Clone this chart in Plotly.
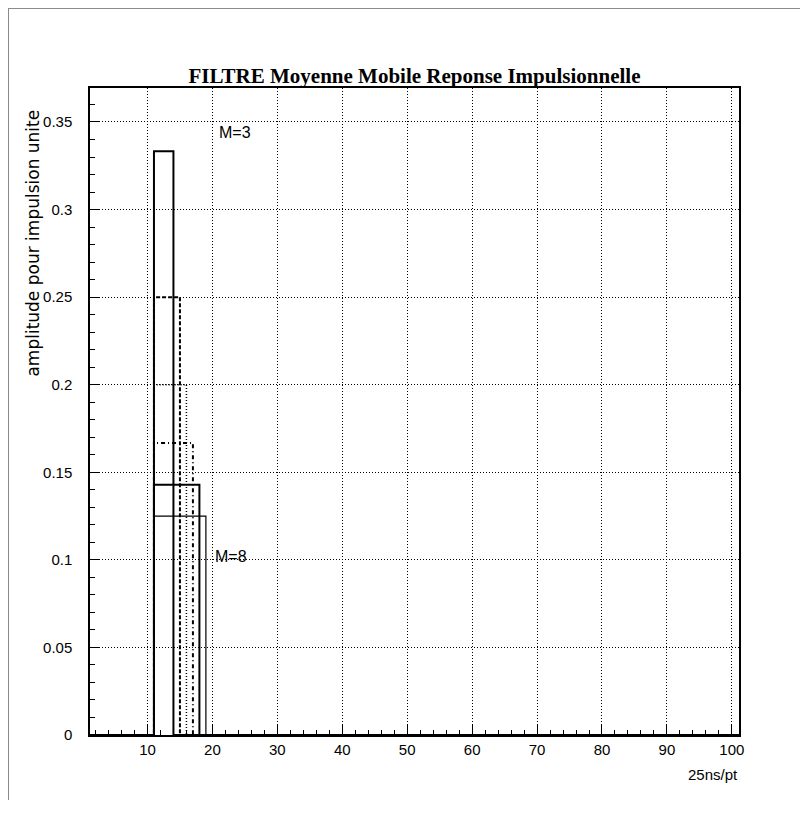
import plotly.graph_objects as go

# ---- data ----
filter_lengths = [3, 4, 5, 6, 7, 8]               # M
amplitudes = [0.3333, 0.25, 0.2, 0.1667, 0.1429, 0.125]
start_bin = 11
x_range = [1.15, 101.1]
y_range = [0, 0.3694]
line_dashes = ["solid", "4px,2px", "1px,2px", "4px,3px,1px,3px", "solid", "solid"]
line_widths = [2, 2, 1.5, 2, 2, 1.2]

fig = go.Figure()
for M, amp, dash, w in zip(filter_lengths, amplitudes, line_dashes, line_widths):
    end = start_bin + M
    fig.add_trace(go.Scatter(
        x=[x_range[0], start_bin, start_bin, end, end, x_range[1]],
        y=[0, 0, amp, amp, 0, 0],
        mode="lines",
        line=dict(color="black", width=w, dash=dash),
        showlegend=False,
        hoverinfo="skip",
    ))

font_sans = "Liberation Sans, Arial, sans-serif"

fig.update_layout(
    width=800, height=806,
    margin=dict(l=82, r=69, t=80, b=79),
    paper_bgcolor="white", plot_bgcolor="white",
    font=dict(family=font_sans, size=15, color="black"),
    title=dict(text="<b>FILTRE Moyenne Mobile Reponse Impulsionnelle</b>",
               font=dict(family="Liberation Serif, Times New Roman, serif", size=21, color="black"),
               x=(82 + 649 / 2) / 800, xanchor="center", y=1 - 68 / 806, yanchor="middle"),
    xaxis=dict(range=x_range, dtick=10, tick0=0, showgrid=True, gridcolor="black",
               griddash="1px,2px", gridwidth=1, ticks="inside", ticklen=10, tickwidth=1,
               tickcolor="black", showline=True, linecolor="black", linewidth=1.5,
               mirror=True, zeroline=False,
               minor=dict(dtick=2, tick0=0, ticks="inside", ticklen=5, tickcolor="black", showgrid=False),
               tickfont=dict(size=15)),
    yaxis=dict(range=y_range, dtick=0.05, tick0=0, showgrid=True, gridcolor="black",
               griddash="1px,2px", gridwidth=1, ticks="inside", ticklen=10, tickwidth=1,
               tickcolor="black", showline=True, linecolor="black", linewidth=1.5,
               mirror=True, zeroline=False, ticklabelstandoff=13,
               minor=dict(dtick=0.01, tick0=0, ticks="inside", ticklen=5, tickcolor="black", showgrid=False),
               tickfont=dict(size=15)),
    annotations=[
        dict(text="M=3", x=20.7, y=0.344, xref="x", yref="y", xanchor="left",
             yanchor="middle", showarrow=False, font=dict(size=16)),
        dict(text="M=8", x=20.1, y=0.1017, xref="x", yref="y", xanchor="left",
             yanchor="middle", showarrow=False, font=dict(size=16)),
        dict(text="amplitude pour impulsion unite", textangle=-90, x=-0.0878, y=0.969,
             xref="paper", yref="paper", xanchor="center", yanchor="top",
             showarrow=False, font=dict(family="DejaVu Sans, sans-serif", size=17)),
        dict(text="25ns/pt", x=1.0015, y=-0.0618, xref="paper", yref="paper",
             xanchor="right", yanchor="middle", showarrow=False, font=dict(size=15)),
    ],
    shapes=[
        dict(type="line", xref="paper", yref="paper", x0=-0.1263, x1=1.106, y0=1.1229, y1=1.1229,
             line=dict(color="#888888", width=1)),
        dict(type="line", xref="paper", yref="paper", x0=-0.1256, x1=-0.1256, y0=1.1229, y1=-0.1005,
             line=dict(color="#888888", width=1)),
    ],
)

fig.write_html("out.html")
